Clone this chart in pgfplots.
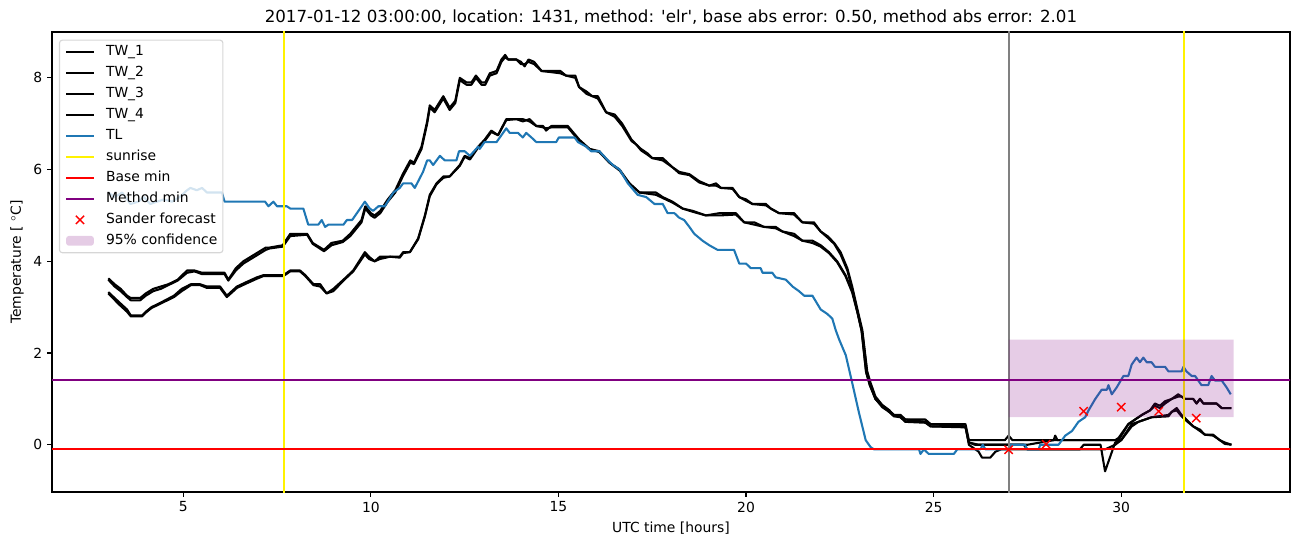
\documentclass[border=0pt]{standalone}
\usepackage{fontspec}
\setmainfont{DejaVu Sans}
\usepackage{pgfplots}
\usepackage{pgfplotstable}
\pgfplotsset{compat=1.18}

\definecolor{tabblue}{RGB}{31,119,180}
\definecolor{mplpurple}{RGB}{128,0,128}
\definecolor{mplgray}{RGB}{128,128,128}
\definecolor{legedge}{RGB}{214,214,214}

\pgfplotsset{
  legline/.style={legend image code/.code={\draw[##1, line width=1.5pt, draw opacity=1] (0pt,0pt) -- (20pt,0pt);}},
  legmark/.style={legend image code/.code={\draw[##1, draw opacity=1] plot coordinates {(10pt,0pt)};}},
  legarea/.style={legend image code/.code={\fill[##1] (0pt,-3.5pt) rectangle (20pt,3.5pt);}},
}

\pgfplotstableread{
t tw1 tw2
3.00 3.63 3.60
3.17 3.50 3.45
3.33 3.40 3.35
3.50 3.25 3.22
3.60 3.20 3.15
3.85 3.20 3.15
4.00 3.30 3.25
4.20 3.40 3.35
4.40 3.45 3.40
4.60 3.50 3.48
4.85 3.60 3.58
5.10 3.80 3.75
5.30 3.80 3.78
5.50 3.75 3.72
6.10 3.75 3.72
6.20 3.60 3.58
6.40 3.85 3.80
6.60 4.00 3.95
6.80 4.10 4.05
7.00 4.20 4.15
7.20 4.30 4.25
7.30 4.30 4.28
7.65 4.35 4.32
7.85 4.60 4.55
8.30 4.60 4.58
8.45 4.40 4.38
8.75 4.25 4.22
8.95 4.40 4.35
9.25 4.45 4.42
9.45 4.60 4.55
9.75 4.90 4.85
9.85 5.20 5.15
10.00 5.05 5.00
10.10 5.00 4.95
10.25 5.10 5.05
10.45 5.35 5.30
10.65 5.55 5.50
10.85 5.90 5.85
11.05 6.20 6.15
11.15 6.15 6.12
11.35 6.50 6.45
11.50 7.05 7.00
11.57 7.40 7.35
11.70 7.30 7.25
11.93 7.60 7.55
12.10 7.35 7.30
12.25 7.50 7.45
12.37 8.00 7.95
12.55 7.90 7.85
12.68 7.90 7.85
12.80 8.05 8.00
12.95 7.90 7.85
13.05 7.90 7.85
13.17 8.10 8.05
13.35 8.15 8.10
13.48 8.40 8.35
13.58 8.50 8.45
13.66 8.40 8.40
13.88 8.40 8.40
14.00 8.35 8.30
14.10 8.25 8.30
14.20 8.40 8.35
14.35 8.35 8.30
14.55 8.15 8.15
15.05 8.15 8.10
15.20 8.05 8.05
15.45 8.05 8.00
15.55 7.80 7.80
15.75 7.70 7.65
15.90 7.60 7.60
16.05 7.60 7.55
16.27 7.25 7.25
16.50 7.20 7.15
16.70 7.00 6.95
16.95 6.65 6.62
17.07 6.55 6.55
17.20 6.45 6.42
17.38 6.35 6.32
17.50 6.25 6.25
17.78 6.25 6.20
18.04 6.05 6.05
18.22 5.95 5.92
18.49 5.90 5.88
18.75 5.75 5.72
19.02 5.65 5.65
19.20 5.70 5.65
19.33 5.60 5.60
19.64 5.60 5.58
19.82 5.40 5.40
20.00 5.35 5.32
20.17 5.25 5.25
20.53 5.25 5.22
20.66 5.15 5.15
20.88 5.05 5.05
21.28 5.05 5.02
21.50 4.85 4.85
21.81 4.85 4.82
21.99 4.65 4.65
22.17 4.55 4.52
22.35 4.40 4.38
22.52 4.20 4.15
22.70 3.85 3.80
22.83 3.45 3.40
22.97 2.95 2.90
23.10 2.50 2.45
23.23 1.60 1.55
23.32 1.35 1.30
23.45 1.05 1.00
23.63 0.87 0.85
23.81 0.76 0.72
23.94 0.65 0.65
24.12 0.65 0.60
24.25 0.55 0.55
24.78 0.55 0.50
24.92 0.45 0.45
25.85 0.45 0.40
25.94 0.10 0.05
26.10 0.10 0.00
26.90 0.10 0.00
27.00 0.20 0.00
27.10 0.10 0.00
27.50 0.10 0.00
28.20 0.10 0.10
28.24 0.10 0.20
28.30 0.10 0.10
29.84 0.10 0.10
29.93 0.10 0.15
30.19 0.45 0.45
30.37 0.55 0.55
30.55 0.65 0.65
30.77 0.75 0.75
30.90 0.90 0.85
31.03 0.85 0.80
31.17 0.95 0.90
31.35 1.00 1.00
31.52 1.10 1.05
31.61 1.05 1.05
31.70 1.00 1.00
31.92 1.00 1.00
32.01 0.90 0.90
32.10 1.00 1.00
32.19 0.90 0.90
32.54 0.90 0.90
32.68 0.80 0.80
32.94 0.80 0.80
}\uppertab

\pgfplotstableread{
t tw3 tw4
3.00 3.33 3.30
3.30 3.10 3.05
3.50 2.95 2.90
3.60 2.82 2.80
3.90 2.82 2.80
4.00 2.90 2.88
4.15 3.00 2.98
4.40 3.10 3.08
4.75 3.25 3.22
4.96 3.40 3.35
5.20 3.50 3.48
5.45 3.50 3.48
5.63 3.45 3.42
5.98 3.45 3.42
6.16 3.25 3.22
6.43 3.45 3.42
6.69 3.55 3.52
6.96 3.65 3.62
7.14 3.70 3.68
7.67 3.70 3.68
7.85 3.80 3.78
8.11 3.80 3.78
8.25 3.70 3.68
8.47 3.50 3.48
8.65 3.50 3.45
8.82 3.30 3.30
9.00 3.40 3.35
9.27 3.60 3.58
9.53 3.80 3.78
9.84 4.20 4.15
9.95 4.10 4.05
10.10 4.00 4.00
10.24 4.10 4.05
10.51 4.10 4.10
10.77 4.10 4.08
10.86 4.20 4.18
11.04 4.20 4.20
11.26 4.50 4.48
11.44 5.00 4.98
11.57 5.45 5.42
11.75 5.70 5.68
11.93 5.85 5.82
12.10 5.85 5.85
12.37 6.10 6.08
12.50 6.30 6.28
12.64 6.25 6.22
12.86 6.50 6.48
13.03 6.65 6.62
13.21 6.85 6.82
13.39 6.75 6.75
13.61 7.10 7.08
13.88 7.10 7.10
14.05 7.05 7.10
14.23 7.10 7.05
14.41 6.95 6.95
14.59 6.95 6.92
14.67 6.85 6.90
14.81 6.95 6.92
15.25 6.95 6.92
15.56 6.65 6.62
15.83 6.45 6.45
16.09 6.40 6.38
16.36 6.15 6.15
16.63 6.00 5.98
16.89 5.70 5.70
17.16 5.50 5.50
17.60 5.50 5.45
17.78 5.40 5.38
18.04 5.30 5.28
18.31 5.15 5.15
18.58 5.10 5.08
18.93 5.00 5.00
19.29 5.05 5.00
19.73 5.05 5.02
19.95 4.85 4.85
20.22 4.85 4.80
20.48 4.75 4.75
20.79 4.75 4.72
20.97 4.65 4.65
21.28 4.60 4.55
21.50 4.45 4.45
21.77 4.45 4.40
21.99 4.35 4.32
22.21 4.20 4.18
22.43 4.00 3.98
22.65 3.70 3.68
22.83 3.35 3.32
22.97 2.90 2.88
23.08 2.50 2.48
23.20 1.60 1.58
23.30 1.30 1.30
23.45 1.00 1.00
23.63 0.85 0.82
23.81 0.75 0.72
23.94 0.65 0.62
24.12 0.60 0.60
24.25 0.50 0.50
24.78 0.50 0.48
24.92 0.40 0.40
25.85 0.40 0.38
25.94 0.00 0.05
26.20 -0.15 0.00
26.29 -0.28 0.00
26.51 -0.28 0.00
26.65 -0.15 0.00
26.80 -0.10 0.00
27.40 -0.10 0.00
27.50 -0.10 -0.10
28.90 -0.10 -0.10
29.00 0.00 -0.10
29.45 0.00 -0.10
29.57 -0.58 -0.10
29.84 0.05 0.00
30.00 0.10 0.10
30.28 0.45 0.40
30.46 0.50 0.50
30.81 0.60 0.60
31.26 0.62 0.65
31.35 0.72 0.72
31.48 0.80 0.75
31.61 0.65 0.62
31.74 0.55 0.52
31.92 0.40 0.40
32.10 0.33 0.30
32.23 0.22 0.22
32.45 0.22 0.20
32.63 0.10 0.10
32.76 0.05 0.02
32.94 0.00 0.00
}\lowertab

\pgfplotstableread{
t tl
3.00 5.50
3.17 5.40
3.37 5.50
3.59 5.25
3.80 5.30
3.95 5.40
4.12 5.25
4.30 5.30
4.48 5.35
4.70 5.30
4.90 5.40
5.10 5.55
5.19 5.60
5.36 5.55
5.50 5.60
5.63 5.50
6.03 5.50
6.10 5.30
7.18 5.30
7.27 5.20
7.40 5.30
7.50 5.20
7.76 5.20
7.85 5.15
8.20 5.15
8.33 4.80
8.60 4.80
8.69 4.90
8.78 4.75
8.87 4.80
9.27 4.80
9.36 4.90
9.50 4.90
9.84 5.30
9.97 5.15
10.06 5.10
10.20 5.20
10.37 5.20
10.60 5.50
10.77 5.60
10.86 5.70
11.08 5.70
11.17 5.60
11.39 5.95
11.50 6.20
11.57 6.20
11.66 6.10
11.84 6.30
11.97 6.20
12.28 6.20
12.35 6.40
12.50 6.40
12.64 6.30
12.86 6.50
12.90 6.45
13.03 6.60
13.35 6.60
13.61 6.90
13.70 6.80
13.92 6.80
14.05 6.70
14.14 6.80
14.28 6.70
14.41 6.60
14.94 6.60
15.01 6.70
15.43 6.70
15.52 6.60
15.74 6.50
15.87 6.40
16.09 6.40
16.32 6.20
16.45 6.10
16.63 6.00
16.85 5.70
17.11 5.45
17.34 5.40
17.56 5.25
17.78 5.25
17.91 5.05
18.09 5.05
18.22 4.95
18.35 4.90
18.49 4.75
18.62 4.60
18.84 4.45
19.02 4.35
19.24 4.25
19.68 4.25
19.82 3.95
20.00 3.95
20.13 3.85
20.39 3.85
20.44 3.75
20.70 3.75
20.79 3.65
21.06 3.60
21.24 3.45
21.41 3.35
21.55 3.25
21.77 3.25
21.99 2.95
22.17 2.85
22.30 2.75
22.39 2.50
22.48 2.30
22.66 1.95
22.83 1.35
23.01 0.70
23.19 0.10
23.32 -0.05
23.41 -0.10
24.61 -0.10
24.65 -0.20
24.74 -0.10
24.87 -0.20
25.54 -0.20
25.63 -0.10
26.25 -0.10
26.31 0.00
26.38 -0.10
27.00 -0.10
27.05 0.00
27.44 0.00
27.49 -0.10
27.80 -0.10
27.84 0.00
28.33 0.00
28.51 0.20
28.69 0.30
28.86 0.50
29.04 0.60
29.13 0.75
29.31 1.00
29.48 1.20
29.62 1.20
29.66 1.30
29.75 1.10
29.88 1.25
30.06 1.50
30.19 1.50
30.28 1.75
30.41 1.90
30.50 1.80
30.59 1.90
30.68 1.80
30.81 1.80
30.90 1.70
31.17 1.70
31.26 1.60
31.61 1.60
31.66 1.70
31.74 1.60
31.88 1.50
31.97 1.50
32.14 1.30
32.32 1.30
32.41 1.50
32.50 1.40
32.68 1.40
32.81 1.25
32.92 1.10
}\tltab

\begin{document}
\begin{tikzpicture}
\begin{axis}[
  name=ax,
  at={(0,0)}, anchor=south west,
  scale only axis, width=891.36pt, height=331.2pt,
  xmin=1.5, xmax=34.5, ymin=-1.03, ymax=9.0,
  xtick={5,10,...,30}, ytick={0,2,...,8},
  tick pos=left, tick align=outside,
  major tick length=3.5pt,
  every tick/.style={black, line width=0.8pt},
  axis line style={line width=0.8pt},
  tick label style={font=\fontsize{10}{12}\selectfont},
  label style={font=\fontsize{10}{12}\selectfont},
  every axis title shift=0pt,
  title style={font=\fontsize{12}{14.4}\selectfont, at={(0.5,1)}, anchor=base, yshift=6.5pt, inner sep=0pt},
  /pgf/number format/assume math mode=true,
  xlabel={UTC time [hours]},
  ylabel={Temperature [ $^\circ$C]},
  title={2017-01-12 03:00:00, location: 1431, method: \textquotesingle elr\textquotesingle, base abs error: 0.50, method abs error: 2.01},
  legend cell align=left,
  legline,
  legend style={
    at={(0,1)}, anchor=north west, xshift=5pt, yshift=-5.5pt,
    draw=legedge, line width=0.8pt, rounded corners=2pt,
    fill=white, fill opacity=0.8, text opacity=1,
    font=\fontsize{10}{12}\selectfont,
    inner xsep=4pt, inner ysep=1pt,
    row sep=0pt,
    /tikz/every odd column/.style={column sep=8pt},
    nodes={inner xsep=0pt, inner ysep=2.75pt, text height=7.3pt, text depth=2.3pt},
  },
  every axis plot/.append style={line width=1.5pt, line join=round},
]
\addplot[black] table[x=t, y=tw1] {\uppertab};
\addlegendentry{TW\_1}
\addplot[black] table[x=t, y=tw2] {\uppertab};
\addlegendentry{TW\_2}
\addplot[black] table[x=t, y=tw3] {\lowertab};
\addlegendentry{TW\_3}
\addplot[black] table[x=t, y=tw4] {\lowertab};
\addlegendentry{TW\_4}
\addplot[tabblue] table[x=t, y=tl] {\tltab};
\addlegendentry{TL}
\addplot[yellow] coordinates {(7.68,-2) (7.68,10)};
\addlegendentry{sunrise}
\addplot[yellow, forget plot] coordinates {(31.67,-2) (31.67,10)};
\addplot[mplgray, forget plot] coordinates {(27,-2) (27,10)};
\addplot[red] coordinates {(0,-0.1) (40,-0.1)};
\addlegendentry{Base min}
\addplot[mplpurple] coordinates {(0,1.42) (40,1.42)};
\addlegendentry{Method min}
\addplot[red, only marks, mark=x, mark size=4.2pt, mark options={line width=1pt}, legmark]
  coordinates {(27,-0.11) (28,0.01) (29,0.73) (30,0.82) (31,0.73) (32,0.58)};
\addlegendentry{Sander forecast}
\addplot[draw=none, fill=mplpurple, fill opacity=0.2, legarea]
  coordinates {(27,0.6) (33,0.6) (33,2.29) (27,2.29) (27,0.6)};
\addlegendentry{95\% confidence}
\end{axis}
\pgfresetboundingbox
\path (ax.south west) ++(-37.44pt,-39.6pt) rectangle ++(937.44pt,393.84pt);
\end{tikzpicture}
\end{document}
